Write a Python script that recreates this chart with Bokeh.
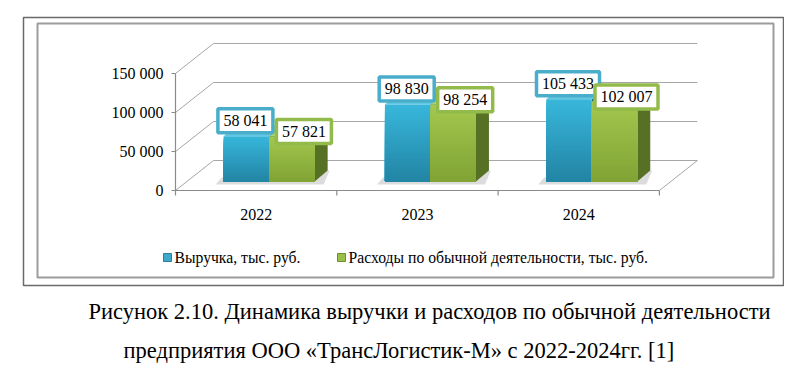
import numpy as np
from bokeh.plotting import figure
from bokeh.models import Range1d, ColumnDataSource
from bokeh.core.properties import value
from bokeh.embed import file_html
from bokeh.resources import INLINE

# ---------------- data ----------------
years = ["2022", "2023", "2024"]
revenue = [58041, 98830, 105433]
expenses = [57821, 98254, 102007]
series_names = ["Выручка, тыс. руб.", "Расходы по обычной деятельности, тыс. руб."]
y_ticks = [0, 50000, 100000, 150000]
y_tick_labels = ["0", "50 000", "100 000", "150 000"]
caption = ["Рисунок 2.10. Динамика выручки и расходов по обычной деятельности",
           "предприятия ООО «ТрансЛогистик-М» с 2022-2024гг. [1]"]

# ---------------- geometry ----------------
W, H = 784, 369
MARGIN = 0
AXIS_X_IMG = 175.0      # page x of the category axis start
AXIS_Y_IMG = 190.0      # page y of value 0 (front)
CAT_PX = 161.3          # px per category
VAL_PX = 117.0 / 150000.0  # px per value unit


def px_x(n):
    return n / CAT_PX


def px_y(n):
    return n / VAL_PX


def pg_x(x):
    return (x - AXIS_X_IMG) / CAT_PX


def pg_y(y):
    return (AXIS_Y_IMG - y) / VAL_PX


def serif():
    return value("Liberation Serif")


p = figure(width=W, height=H,
           x_range=Range1d(pg_x(MARGIN), pg_x(MARGIN + W)),
           y_range=Range1d(pg_y(MARGIN + H), pg_y(MARGIN)),
           x_axis_type=None, y_axis_type=None,
           output_backend="svg", toolbar_location=None,
           min_border=0, outline_line_color=None)
p.grid.visible = False
p.background_fill_color = "white"

# ---------------- frames ----------------
p.quad(left=pg_x(23), right=pg_x(783), top=pg_y(17), bottom=pg_y(285),
       fill_color=None, line_color="#6a6a6a", line_width=1.5)
p.quad(left=pg_x(37), right=pg_x(773), top=pg_y(23), bottom=pg_y(277),
       fill_color=None, line_color="#9c9c9c", line_width=2)

n_cat = len(years)
DXF, DYF = px_x(38), px_y(30)    # floor / wall depth

# back wall grid lines + side wall diagonals
gx0, gy0, gx1, gy1 = [], [], [], []
for t in y_ticks:
    gx0 += [DXF, 0]
    gy0 += [t + DYF, t]
    gx1 += [n_cat + DXF, DXF]
    gy1 += [t + DYF, t + DYF]
# right floor edge
gx0.append(n_cat); gy0.append(0); gx1.append(n_cat + DXF); gy1.append(DYF)
p.segment(gx0, gy0, gx1, gy1, line_color="#a6a6a6", line_width=1)

# axes
ax_col = "#8a8a8a"
p.segment([0, 0], [0, 0], [0, n_cat], [max(y_ticks), 0], line_color=ax_col, line_width=1.2)
p.segment([-px_x(4)] * len(y_ticks), y_ticks, [0] * len(y_ticks), y_ticks,
          line_color=ax_col, line_width=1.2)
cat_edges = list(range(n_cat + 1))
p.segment(cat_edges, [0] * len(cat_edges), cat_edges, [-px_y(5)] * len(cat_edges),
          line_color=ax_col, line_width=1.2)

# tick labels
p.text(x=[-px_x(12)] * len(y_ticks), y=y_ticks, text=y_tick_labels,
       text_align="right", text_baseline="middle", text_font=serif(),
       text_font_size="16px", text_color="black")
p.text(x=[i + 0.5 for i in range(n_cat)], y=[-px_y(24)] * n_cat, text=years,
       text_align="center", text_baseline="middle", text_font=serif(),
       text_font_size="16px", text_color="black")

# ---------------- 3D bars ----------------
BAR_OFF_X, BAR_OFF_Y = px_x(13), px_y(9)
BAR_W = px_x(45.5)
BD_X, BD_Y = px_x(13), px_y(11)
NSTRIP = 30


def hexc(c):
    return "#%02x%02x%02x" % tuple(int(round(v)) for v in c)


def lerp(c1, c2, t):
    return [a + (b - a) * t for a, b in zip(c1, c2)]


styles = [
    dict(front_top=(56, 183, 219), front_bot=(34, 132, 164),
         side_top=(30, 120, 150), side_bot=(22, 95, 120), top=(100, 200, 228)),
    dict(front_top=(163, 199, 78), front_bot=(128, 163, 52),
         side_top=(98, 126, 42), side_bot=(76, 100, 30), top=(182, 212, 110)),
]

series_vals = [revenue, expenses]

# shadows on the floor
for i in range(n_cat):
    cx = i + 0.5 + BAR_OFF_X
    xl = cx - BAR_W
    xr = cx + BAR_W + BD_X
    p.patch([xl - px_x(8), xl - px_x(2), xr + px_x(2), xr - px_x(4)],
            [BAR_OFF_Y - px_y(3), BAR_OFF_Y + px_y(4), BAR_OFF_Y + BD_Y, BAR_OFF_Y - px_y(3)],
            fill_color="#9a9a9a", fill_alpha=0.35, line_color=None)

for s, vals in enumerate(series_vals):
    st = styles[s]
    fl, fr, fb, ft, fc = [], [], [], [], []
    sxs, sys_, scol = [], [], []
    txs, tys, tcol = [], [], []
    for i, v in enumerate(vals):
        cx = i + 0.5 + BAR_OFF_X
        xl = cx - BAR_W if s == 0 else cx
        xr = xl + BAR_W
        y0 = BAR_OFF_Y
        y1 = v + BAR_OFF_Y
        # front face: overlapping gradient layers (tallest first, darker on top of it)
        for k in range(NSTRIP, 0, -1):
            t = y0 + (y1 - y0) * k / NSTRIP
            fl.append(xl); fr.append(xr); fb.append(y0); ft.append(t)
            fc.append(hexc(lerp(st["front_bot"], st["front_top"], (k - 0.5) / NSTRIP)))
        # side face
        sxs.append([xr, xr + BD_X, xr + BD_X, xr])
        sys_.append([y0, y0 + BD_Y, y1 + BD_Y, y1])
        scol.append(hexc(lerp(st["side_bot"], st["side_top"], 0.5)))
        # top face
        txs.append([xl, xl + BD_X, xr + BD_X, xr])
        tys.append([y1, y1 + BD_Y, y1 + BD_Y, y1])
        tcol.append(hexc(st["top"]))
    p.patches(sxs, sys_, fill_color=scol, line_color=None)
    p.patches(txs, tys, fill_color=tcol, line_color=None)
    p.quad(left=fl, right=fr, bottom=fb, top=ft, fill_color=fc, line_color=None)

# ---------------- data labels ----------------
label_border = ["#4aaecb", "#93bb4c"]
label_off = [(-1.0, 15.5), (12.0, 5.0)]   # px offsets (x, up) from bar top centre
for s, vals in enumerate(series_vals):
    xs, ys, txt, wid = [], [], [], []
    for i, v in enumerate(vals):
        cx = i + 0.5 + BAR_OFF_X
        bc = cx - BAR_W / 2 if s == 0 else cx + BAR_W / 2
        xs.append(bc + px_x(label_off[s][0]))
        ys.append(v + BAR_OFF_Y + px_y(label_off[s][1]))
        t = f"{v:,}".replace(",", " ")
        txt.append(t)
        nd = sum(ch.isdigit() for ch in t)
        wid.append(8.0 * nd + 4 + 11)
    src = ColumnDataSource(dict(x=xs, y=ys, text=txt, w=wid))
    p.rect(x="x", y="y", width="w", height=24, width_units="screen", height_units="screen",
           source=src, fill_color="white", line_color=label_border[s], line_width=3.5)
    p.text(x="x", y="y", text="text", source=src, text_align="center",
           text_baseline="middle", text_font=serif(), text_font_size="16px", text_color="black")

# ---------------- legend ----------------
leg_y = pg_y(257)
leg_mx = [pg_x(167), pg_x(341)]
leg_tx = [pg_x(174), pg_x(348)]
leg_fill = ["#3fa8c8", "#98bf4a"]
leg_line = ["#2a7f9b", "#6f8f2c"]
p.scatter(x=leg_mx, y=[leg_y] * 2, marker="square", size=8,
          fill_color=leg_fill, line_color=leg_line, line_width=1)
p.text(x=leg_tx, y=[leg_y] * 2, text=series_names, text_align="left",
       text_baseline="middle", text_font=serif(), text_font_size="15.7px", text_color="black")

# ---------------- caption ----------------
p.text(x=[pg_x(88), pg_x(123)], y=[pg_y(311), pg_y(350)], text=caption,
       text_align="left", text_baseline="alphabetic", text_font=serif(),
       text_font_size="22.5px", text_color="black")

open("out.html", "w").write(file_html(p, INLINE))
